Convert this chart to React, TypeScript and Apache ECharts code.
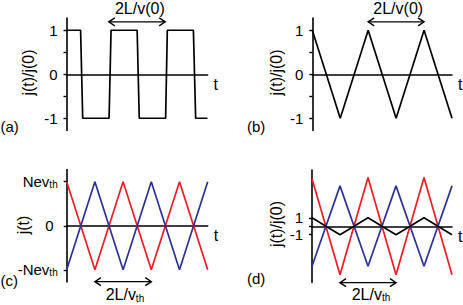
import React, { useEffect, useRef } from "react";
import * as echarts from "echarts";

// ---- data ----
const squareT = [0, 1.0, 1.15, 3.02, 3.16, 5.01, 5.16, 7.03, 7.15, 9.0, 9.16, 10];
const squareJ = [1, 1, -1, -1, 1, 1, -1, -1, 1, 1, -1, -1];
const triT = [0, 2, 4, 6, 8, 10];
const triJ = [1, -1, 1, -1, 1, -1];
const cRed = [1, -1, 1, -1, 1, -1];
const cBlue = [-1, 1, -1, 1, -1, 1];
const dRed = [5.6, -5.7, 5.75, -5.7, 5.75, -5.7];
const dBlue = [-4.7, 4.75, -4.7, 4.75, -4.7, 4.75];
const dBlack = [1, -1, 1, -1, 1, -1];
const abTicks = [-1, -0.5, 0, 0.5, 1];
const abLabels = [-1, 0, 1];
const cTicks = [-1, 0, 1];
const dTicks = [-1, 0, 1];
const dLabels = [-1, 1];
// arrows: [t1, t2, y, textT, textY]
const arrowA = [3, 7, 1.19, 5.2, 1.49];
const arrowB = [4, 8, 1.19, 6.15, 1.49];
const arrowC = [2, 6, -1.27, 4.13, -1.57];
const arrowD = [2, 6, -6.64, 4.21, -8.0];

const FONT = "Liberation Sans, Arial, Helvetica, sans-serif";
const RED = "#ee1c24";
const BLUE = "#2e3192";

const zip = (xs: number[], ys: number[]) => xs.map((x, i) => [x, ys[i]]);

const subRich = {
  m: { fontSize: 15, fontFamily: FONT, color: "#000", lineHeight: 16, padding: [5, 0, 5, 0] },
  s: { fontSize: 10, fontFamily: FONT, color: "#000", lineHeight: 10, verticalAlign: "bottom" },
  z: { fontSize: 15, fontFamily: FONT, color: "#000", lineHeight: 16, padding: [5, 4, 5, 0] },
};

function arrowRenderer(text: string, rich: any, fontSize: number) {
  return (params: any, api: any) => {
    const p1 = api.coord([api.value(0), api.value(2)]);
    const p2 = api.coord([api.value(1), api.value(2)]);
    const pt = api.coord([api.value(3), api.value(4)]);
    const h = 6, w = 4;
    const st = { stroke: "#000", lineWidth: 1.4, fill: null };
    return {
      type: "group",
      children: [
        { type: "line", shape: { x1: p1[0], y1: p1[1], x2: p2[0], y2: p2[1] }, style: st },
        { type: "polyline", shape: { points: [[p1[0] + h, p1[1] - w], [p1[0], p1[1]], [p1[0] + h, p1[1] + w]] }, style: st },
        { type: "polyline", shape: { points: [[p2[0] - h, p2[1] - w], [p2[0], p2[1]], [p2[0] - h, p2[1] + w]] }, style: st },
        {
          type: "text",
          x: pt[0],
          y: pt[1],
          style: { text, rich, fontSize, fontFamily: FONT, fill: "#000", align: "center", verticalAlign: "middle" },
        },
      ],
    };
  };
}

export default function App() {
  const ref = useRef<HTMLDivElement>(null);
  useEffect(() => {
    if (!ref.current) return;
    const chart = echarts.init(ref.current, null, { renderer: "svg" });
    const grids = [
      { left: 66.5, top: 18, width: 141, height: 112.5 },
      { left: 312.3, top: 18, width: 139.7, height: 112.5 },
      { left: 66.7, top: 169.5, width: 141, height: 112.5 },
      { left: 312, top: 170, width: 140, height: 112.5 },
    ].map((g) => ({ ...g, outerBoundsMode: "none", containLabel: false, show: false }));

    const xAxisBase = (gi: number) => ({
      type: "value",
      gridIndex: gi,
      min: 0,
      max: 10,
      axisLine: { onZero: true, lineStyle: { color: "#000", width: 1.6 } },
      axisTick: { show: false },
      axisLabel: { show: false },
      splitLine: { show: false },
      name: "t",
      nameLocation: "end",
      nameGap: 6,
      nameTextStyle: { fontSize: 16, fontFamily: FONT, color: "#000", verticalAlign: "top", padding: [2, 0, 0, 0] },
    });
    const lim = 1.278;
    const yAxisBase = (gi: number, min: number, max: number, ticks: number[], labels: number[], formatter?: any, rich?: any) => ({
      type: "value",
      gridIndex: gi,
      min,
      max,
      axisLine: { onZero: false, lineStyle: { color: "#000", width: 1.6 } },
      axisTick: { show: true, inside: false, length: 3, customValues: ticks, lineStyle: { color: "#000", width: 1.4 } },
      axisLabel: {
        customValues: labels,
        margin: 9,
        fontSize: 15,
        fontFamily: FONT,
        color: "#000",
        formatter: formatter || ((v: number) => String(v)),
        rich,
      },
      splitLine: { show: false },
    });

    const cFormatter = (v: number) => (v === 1 ? "{m|Nev}{s|th}" : v === -1 ? "{m|-Nev}{s|th}" : "{z|0}");

    const lineSeries = (xi: number, data: number[][], color: string) => ({
      type: "line",
      xAxisIndex: xi,
      yAxisIndex: xi,
      data,
      symbol: "none",
      lineStyle: { color, width: 1.7 },
      silent: true,
      z: 3,
    });

    const arrowSeries = (xi: number, row: number[], text: string, rich: any, fs: number) => ({
      type: "custom",
      xAxisIndex: xi,
      yAxisIndex: xi,
      data: [row],
      encode: { x: [0, 1, 3], y: [2, 4] },
      renderItem: arrowRenderer(text, rich, fs),
      clip: false,
      silent: true,
      z: 5,
    });

    const arrowRich = {
      m: { fontSize: 16, fontFamily: FONT, color: "#000", lineHeight: 17, padding: [4, 0, 4, 0] },
      s: { fontSize: 10, fontFamily: FONT, color: "#000", lineHeight: 10, verticalAlign: "bottom" },
    };

    const yNameTexts = [
      { text: "j(t)/j(0)", x: 28, y: 72.5 },
      { text: "j(t)/j(0)", x: 276, y: 72.5 },
      { text: "j(t)", x: 23.3, y: 225 },
      { text: "j(t)/j(0)", x: 276.6, y: 224 },
    ];
    const panelLabels = [
      { text: "(a)", x: 0.5, y: 126.7 },
      { text: "(b)", x: 247, y: 126.7 },
      { text: "(c)", x: 0.5, y: 280.3 },
      { text: "(d)", x: 247, y: 278.7 },
    ];

    chart.setOption({
      animation: false,
      backgroundColor: "#fff",
      textStyle: { fontFamily: FONT },
      grid: grids,
      xAxis: [xAxisBase(0), xAxisBase(1), xAxisBase(2), xAxisBase(3)],
      yAxis: [
        yAxisBase(0, -lim, lim, abTicks, abLabels),
        yAxisBase(1, -lim, lim, abTicks, abLabels),
        yAxisBase(2, -lim, lim, cTicks, cTicks, cFormatter, subRich),
        yAxisBase(3, -6.62, 6.62, dTicks, dLabels),
      ],
      series: [
        lineSeries(0, zip(squareT, squareJ), "#000"),
        lineSeries(1, zip(triT, triJ), "#000"),
        lineSeries(2, zip(triT, cRed), RED),
        lineSeries(2, zip(triT, cBlue), BLUE),
        lineSeries(3, zip(triT, dRed), RED),
        lineSeries(3, zip(triT, dBlue), BLUE),
        lineSeries(3, zip(triT, dBlack), "#000"),
        arrowSeries(0, arrowA, "2L/v(0)", undefined, 16),
        arrowSeries(1, arrowB, "2L/v(0)", undefined, 16),
        arrowSeries(2, arrowC, "{m|2L/v}{s|th}", arrowRich, 16),
        arrowSeries(3, arrowD, "{m|2L/v}{s|th}", arrowRich, 16),
      ],
      graphic: [
        ...yNameTexts.map((t) => ({
          type: "text",
          x: t.x,
          y: t.y,
          rotation: Math.PI / 2,
          style: { text: t.text, fontSize: 16, fontFamily: FONT, fill: "#000", align: "center", verticalAlign: "middle" },
        })),
        ...panelLabels.map((t) => ({
          type: "text",
          x: t.x,
          y: t.y,
          style: { text: t.text, fontSize: 15, fontFamily: FONT, fill: "#000", align: "left", verticalAlign: "middle" },
        })),
      ],
    });
    return () => chart.dispose();
  }, []);
  return (
    <div
      ref={ref}
      style={{ position: "fixed", left: 0, top: 0, width: 463, height: 305, background: "#fff" }}
    />
  );
}
